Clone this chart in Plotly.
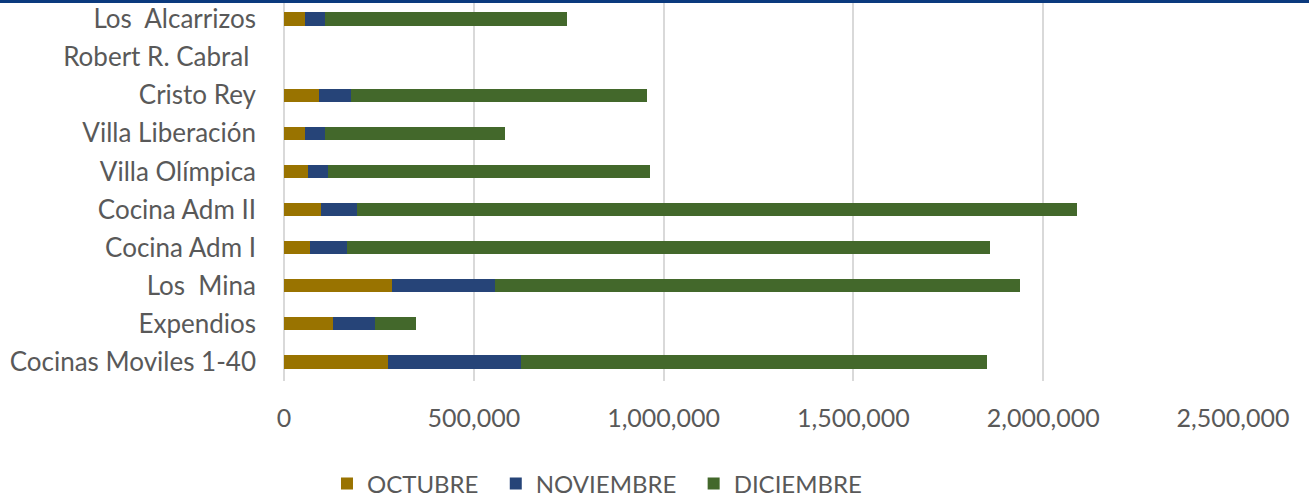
import plotly.graph_objects as go

categories = [
    "Los\u00a0 Alcarrizos",
    "Robert R. Cabral\u00a0",
    "Cristo Rey",
    "Villa Liberación",
    "Villa Olímpica",
    "Cocina Adm II",
    "Cocina Adm I",
    "Los\u00a0 Mina",
    "Expendios",
    "Cocinas Moviles 1-40",
]
octubre = [56000, 0, 92000, 56000, 62000, 97000, 68000, 285000, 128000, 273000]
noviembre = [53000, 0, 85000, 53000, 55000, 96000, 97000, 270000, 113000, 352000]
diciembre = [637000, 0, 779000, 472000, 846000, 1896000, 1695000, 1385000, 108000, 1226000]
tick_values = [0, 500000, 1000000, 1500000, 2000000, 2500000]
tick_labels = ["0", "500,000", "1,000,000", "1,500,000", "2,000,000", "2,500,000"]
series_names = ["OCTUBRE", "NOVIEMBRE", "DICIEMBRE"]
series_colors = ["#997300", "#264478", "#43682B"]

FONT = "Lato"
TXT = "#595959"

fig = go.Figure()
for name, vals, col in zip(series_names, [octubre, noviembre, diciembre], series_colors):
    fig.add_trace(go.Bar(y=categories, x=vals, name=name + "\u00a0\u00a0", orientation="h",
                         marker=dict(color=col, line=dict(width=0))))

fig.update_layout(
    template="none",
    barmode="stack",
    bargap=0.655,
    width=1309, height=500,
    margin=dict(l=284, r=76, t=0, b=119, pad=0, autoexpand=False),
    paper_bgcolor="white", plot_bgcolor="white",
    font=dict(family=FONT, size=25, color=TXT),
    legend=dict(orientation="h", x=0.0453, xanchor="left", y=-0.27, yanchor="middle",
                font=dict(family=FONT, size=24, color=TXT), traceorder="normal",
                bgcolor="rgba(0,0,0,0)"),
    xaxis=dict(range=[0, 2500000], tickvals=tick_values, ticktext=tick_labels,
               showgrid=True, gridcolor="#D9D9D9", gridwidth=2,
               zeroline=True, zerolinecolor="#D9D9D9", zerolinewidth=2,
               showline=False, ticks="", ticklabelstandoff=20, automargin=False,
               tickfont=dict(family=FONT, size=25, color=TXT)),
    yaxis=dict(autorange="reversed", showgrid=False, showline=False, ticks="",
               zeroline=False, automargin=False,
               ticklabelstandoff=27, tickfont=dict(family=FONT, size=26, color=TXT)),
    shapes=[dict(type="rect", xref="paper", yref="paper",
                 x0=-284/949, x1=(1309-284)/949, y0=1-3/381, y1=1,
                 fillcolor="#0B3A7E", line=dict(width=0), layer="above")],
)

fig.write_html("out.html", config={"displayModeBar": False},
               post_script="document.body.style.margin='0';document.body.style.overflow='hidden';")
